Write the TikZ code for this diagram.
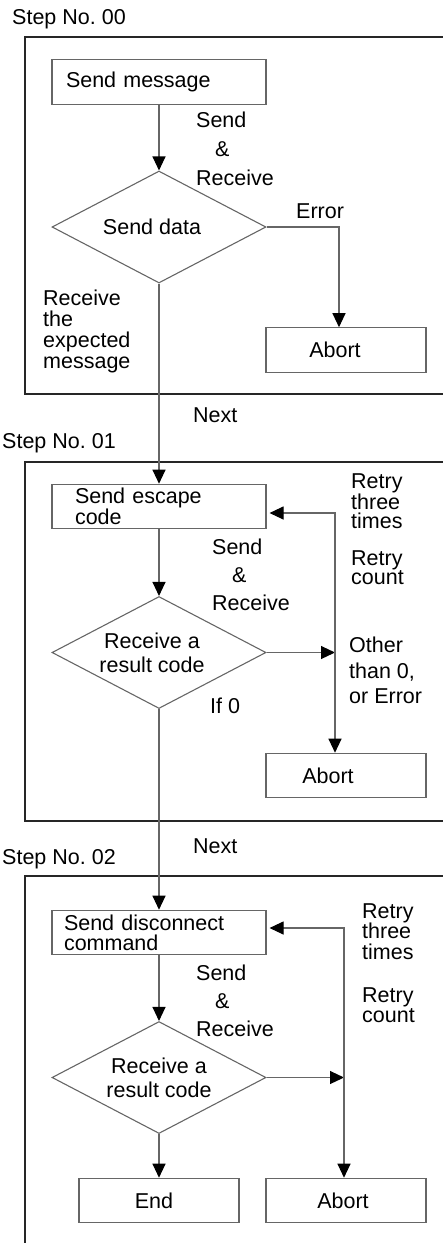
\documentclass[tikz,border=0pt]{standalone}
\usepackage{fontspec}
\setmainfont{Liberation Sans}
\usetikzlibrary{arrows.meta, shapes.geometric}
\definecolor{linegray}{gray}{0.4}
\definecolor{framegray}{gray}{0.15}
\frenchspacing

\begin{document}
\begin{tikzpicture}[
  x=1pt, y=-1pt,
  box/.style={draw=linegray, line width=1.1pt, minimum width=214pt, minimum height=44.5pt, inner ysep=0pt, font=\fontsize{21.5}{20}\selectfont},
  smallbox/.style={box, minimum width=160pt},
  cond/.style={draw=linegray, line width=1.1pt, diamond, aspect=1.9, minimum width=214pt, minimum height=112pt, inner sep=0pt, align=center, font=\fontsize{21.5}{24}\selectfont},
  lbl/.style={inner sep=0pt, align=left, font=\fontsize{21.5}{20.5}\selectfont},
  frame/.style={draw=framegray, line width=1.1pt},
  arr/.style={-{Triangle[length=14pt, width=13pt, color=black]}, draw=linegray, line width=1.1pt}
]
\useasboundingbox (0,0) rectangle (443,1243);

% Step 00
\node[lbl, anchor=base west] (step0) at (12,24) {Step No. 00};
\draw[frame] (445,37) -- (25,37) -- (25,394) -- (445,394);
\node[box, text width=186pt, inner xsep=14pt, align=left] (msg0) at (159,82) {Send message};
\node[cond] (dia0) at (159,227) {Send data\hspace*{14pt}};
\node[smallbox] (abort0) at (346,350) {Abort\hspace*{22pt}};
\node[lbl, font=\fontsize{21.5}{29}\selectfont, anchor=north west] (sr0) at (196,112) {Send\\\hspace*{19pt}\&\\Receive};
\node[lbl, anchor=base west] (err0) at (296,218) {Error};
\node[lbl, font=\fontsize{21.5}{21}\selectfont, anchor=north west] (exp0) at (43,290) {Receive\\the\\expected\\message};
\draw[arr] (msg0) -- (dia0);
\draw[arr] (dia0.east) -| ([xshift=-7pt]abort0.north);
\node[lbl, anchor=base west] (next0) at (193,422) {Next};

% Step 01
\node[lbl, anchor=base west] (step1) at (2,448) {Step No. 01};
\draw[frame] (445,462) -- (25,462) -- (25,821) -- (445,821);
\node[box, text width=168pt, inner xsep=23pt, align=left] (msg1) at (159,506.5) {Send escape\\code};
\node[cond] (dia1) at (159,652.5) {Receive a\hspace*{14pt}\\result code\hspace*{14pt}};
\node[smallbox] (abort1) at (346,775.5) {Abort\hspace*{36pt}};
\node[lbl, font=\fontsize{21.5}{28}\selectfont, anchor=north west] (sr1) at (212,539) {Send\\\hspace*{20pt}\&\\Receive};
\node[lbl, font=\fontsize{21.5}{19.5}\selectfont, anchor=north west] (retry1) at (351,473) {Retry\\three\\times};
\node[lbl, font=\fontsize{21.5}{19.5}\selectfont, anchor=north west] (count1) at (351,550) {Retry\\count};
\node[lbl, font=\fontsize{21.5}{25.5}\selectfont, anchor=north west] (other1) at (349,637) {Other\\than 0,\\or Error};
\node[lbl, anchor=base west] (if1) at (210,713) {If 0};
\coordinate (loop1) at ([xshift=-11pt]abort1.north);
\draw[arr] (dia0) -- (msg1);
\draw[arr] (msg1) -- (dia1);
\draw[arr] (dia1.east) -- (dia1.east -| loop1);
\draw[arr, shorten >=3pt] (dia1.east -| loop1) |- ([yshift=-6.5pt]msg1.east);
\draw[arr] (dia1.east -| loop1) -- (loop1);
\node[lbl, anchor=base west] (next1) at (193,853) {Next};

% Step 02
\node[lbl, anchor=base west] (step2) at (2,864) {Step No. 02};
\draw[frame] (445,876) -- (25,876) -- (25,1250);
\node[box, text width=190pt, inner xsep=12pt, align=left] (msg2) at (159,932.5) {Send disconnect\\command};
\node[cond] (dia2) at (159,1077.5) {Receive a\\result code};
\node[smallbox] (end2) at (159,1200.5) {End\hspace*{10pt}};
\node[smallbox] (abort2) at (346,1200.5) {Abort\hspace*{6pt}};
\node[lbl, font=\fontsize{21.5}{28}\selectfont, anchor=north west] (sr2) at (196,965) {Send\\\hspace*{19pt}\&\\Receive};
\node[lbl, anchor=north west] (retry2) at (362,903) {Retry\\three\\times};
\node[lbl, anchor=north west] (count2) at (362,987) {Retry\\count};
\coordinate (loop2) at ([xshift=-2pt]abort2.north);
\draw[arr] (dia1) -- (msg2);
\draw[arr] (msg2) -- (dia2);
\draw[arr] (dia2) -- (end2);
\draw[arr] (dia2.east) -- (dia2.east -| loop2);
\draw[arr, shorten >=3pt] (dia2.east -| loop2) |- ([yshift=4.5pt]msg2.east);
\draw[arr] (dia2.east -| loop2) -- (loop2);
\end{tikzpicture}
\end{document}
